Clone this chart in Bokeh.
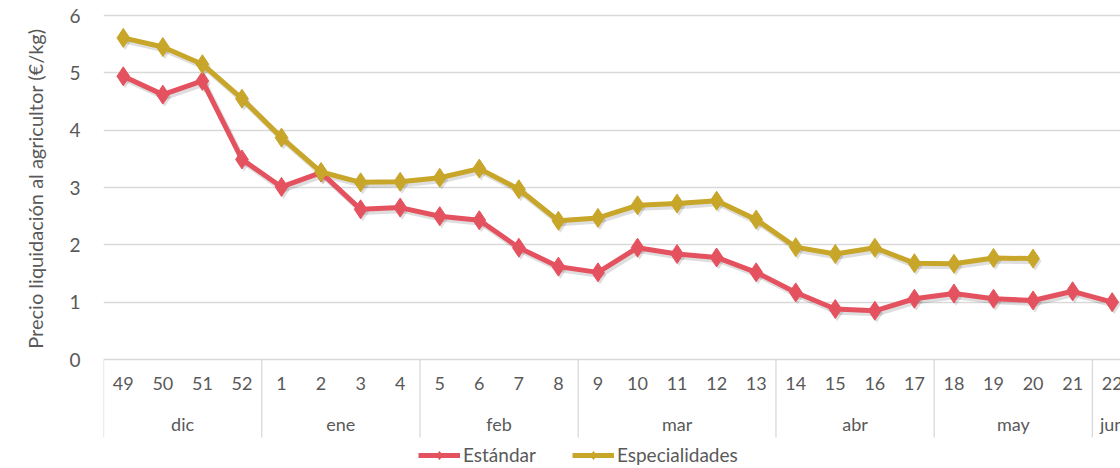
import numpy as np
from bokeh.plotting import figure
from bokeh.models import FixedTicker, Legend, LegendItem, Range1d, Title
from bokeh.core.properties import value
from bokeh.embed import file_html
from bokeh.resources import INLINE

# ---- data ----
weeks = ["49", "50", "51", "52", "1", "2", "3", "4", "5", "6", "7", "8", "9",
         "10", "11", "12", "13", "14", "15", "16", "17", "18", "19", "20", "21", "22"]
months = ["dic", "ene", "feb", "mar", "abr", "may", "jun"]
weeks_per_month = [4, 4, 4, 5, 4, 4, 1]
estandar = [4.94, 4.62, 4.86, 3.49, 3.01, 3.26, 2.62, 2.65, 2.50, 2.43, 1.95, 1.62, 1.52,
            1.95, 1.84, 1.78, 1.52, 1.17, 0.88, 0.85, 1.06, 1.15, 1.06, 1.03, 1.19, 1.00]
especialidades = [5.61, 5.45, 5.15, 4.55, 3.87, 3.27, 3.09, 3.10, 3.17, 3.33, 2.97, 2.42, 2.47,
                  2.69, 2.72, 2.77, 2.44, 1.96, 1.84, 1.95, 1.68, 1.67, 1.77, 1.76]
y_ticks = [0, 1, 2, 3, 4, 5, 6]
y_title = "Precio liquidación al agricultor (€/kg)"
series_names = ["Estándar", "Especialidades"]

FONT = "Lato"
TXT = "#595959"
GRID = "#D9D9D9"
RED = "#E5525F"
GOLD = "#C8A62A"

p = figure(width=1120, height=468,
           x_range=Range1d(-0.5, 25.21), y_range=Range1d(-1.901, 6.262),
           x_axis_location=None, output_backend="svg", toolbar_location=None,
           min_border_left=103, min_border_right=0, min_border_top=0, min_border_bottom=0)
p.outline_line_color = None
p.xgrid.visible = False
p.ygrid.ticker = FixedTicker(ticks=y_ticks)
p.ygrid.grid_line_color = GRID
p.ygrid.grid_line_width = 1.3

ax = p.yaxis[0]
ax.ticker = FixedTicker(ticks=y_ticks)
ax.axis_line_color = None
ax.major_tick_line_color = None
ax.minor_tick_line_color = None
ax.major_label_text_font = FONT
ax.major_label_text_font_size = "19px"
ax.major_label_text_color = TXT
ax.major_label_standoff = 17

p.add_layout(Title(text=y_title, align="right", offset=28, standoff=40,
                   text_font=FONT, text_font_size="20px", text_font_style="normal",
                   text_color=TXT), "left")

# category axis drawn inside extended frame
xi = np.arange(len(weeks))
p.text(x=xi, y=[-0.42] * len(weeks), text=weeks, text_align="center",
       text_baseline="middle", text_font=value(FONT), text_font_size="18px",
       text_color=TXT)
bounds = np.concatenate([[0], np.cumsum(weeks_per_month)]) - 0.5
centers = (bounds[:-1] + bounds[1:]) / 2
p.text(x=centers, y=[-1.12] * len(months), text=months, text_align="center",
       text_baseline="middle", text_font=value(FONT), text_font_size="18px",
       text_color=TXT)
p.segment(x0=bounds, y0=[0] * len(bounds), x1=bounds, y1=[-1.36] * len(bounds),
          line_color=GRID, line_width=1.3)

# shadows
xr = xi[:len(estandar)]
xg = xi[:len(especialidades)]
for xs, ys in ((xr, estandar), (xg, especialidades)):
    sx = xs + 0.05
    sy = np.array(ys) - 0.045
    p.line(sx, sy, line_color="#000000", line_alpha=0.13, line_width=6)
    p.scatter(sx, sy, marker="diamond", size=19, fill_color="#000000", fill_alpha=0.13,
              line_color=None)

r_line = p.line(xr, estandar, line_color=RED, line_width=5, line_join="round")
r_pts = p.scatter(xr, estandar, marker="diamond", size=19, fill_color=RED, line_color=RED)
g_line = p.line(xg, especialidades, line_color=GOLD, line_width=5, line_join="round")
g_pts = p.scatter(xg, especialidades, marker="diamond", size=19, fill_color=GOLD, line_color=GOLD)

legend = Legend(items=[LegendItem(label=series_names[0], renderers=[r_line, r_pts]),
                       LegendItem(label=series_names[1], renderers=[g_line, g_pts])],
                orientation="horizontal", location=(315, 2), padding=0, margin=0,
                spacing=36, label_standoff=3, glyph_width=42, glyph_height=20,
                border_line_color=None, background_fill_alpha=0,
                label_text_font=FONT, label_text_font_size="19px",
                label_text_color=TXT)
p.add_layout(legend)

open("out.html", "w").write(file_html(p, INLINE))
